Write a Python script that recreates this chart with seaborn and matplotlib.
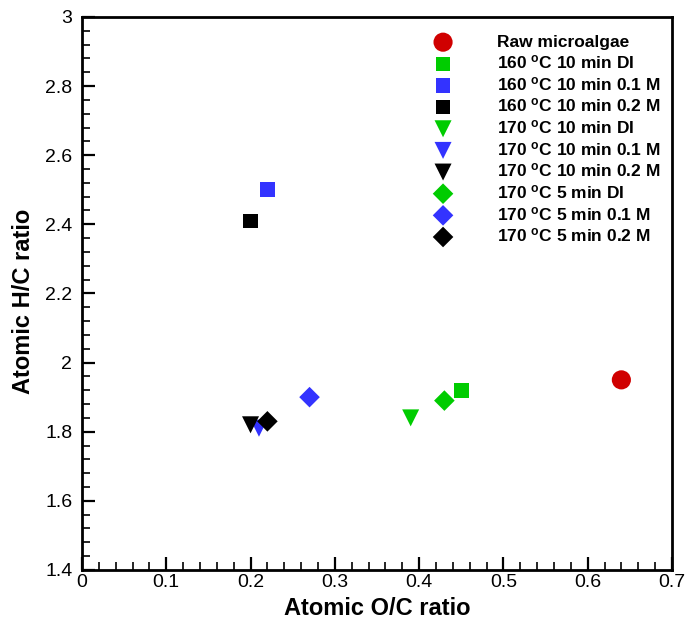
import matplotlib
matplotlib.use("Agg")
import matplotlib.pyplot as plt
import seaborn as sns
import pandas as pd
from matplotlib.ticker import MultipleLocator

sns.set_theme(style="white")
plt.rcParams['font.family'] = ['Liberation Sans', 'DejaVu Sans']
plt.rcParams['mathtext.fontset'] = 'custom'
plt.rcParams['mathtext.rm'] = 'Liberation Sans:bold'
plt.rcParams['mathtext.it'] = 'Liberation Sans:bold'
plt.rcParams['mathtext.bf'] = 'Liberation Sans:bold'
for k in ['text.color', 'axes.labelcolor', 'xtick.color', 'ytick.color']:
    plt.rcParams[k] = 'black'

labels = ["Raw microalgae",
          "160 $^{\\mathrm{o}}$C 10 min DI",
          "160 $^{\\mathrm{o}}$C 10 min 0.1 M",
          "160 $^{\\mathrm{o}}$C 10 min 0.2 M",
          "170 $^{\\mathrm{o}}$C 10 min DI",
          "170 $^{\\mathrm{o}}$C 10 min 0.1 M",
          "170 $^{\\mathrm{o}}$C 10 min 0.2 M",
          "170 $^{\\mathrm{o}}$C 5 min DI",
          "170 $^{\\mathrm{o}}$C 5 min 0.1 M",
          "170 $^{\\mathrm{o}}$C 5 min 0.2 M"]
oc_ratio = [0.64, 0.45, 0.22, 0.20, 0.39, 0.21, 0.20, 0.43, 0.27, 0.22]
hc_ratio = [1.95, 1.92, 2.50, 2.41, 1.84, 1.81, 1.82, 1.89, 1.90, 1.83]

colors = ['#D00000', '#00CC00', '#3333FF', '#000000',
          '#00CC00', '#3333FF', '#000000',
          '#00CC00', '#3333FF', '#000000']
markers = ['o', 's', 's', 's', 'v', 'v', 'v', 'D', 'D', 'D']
sizes = [190, 110, 110, 110, 150, 150, 150, 110, 110, 110]

fig = plt.figure(figsize=(6.86, 6.26), dpi=100)
ax = fig.add_axes([0.1195, 0.0895, 0.86, 0.8835])

for i, lab in enumerate(labels):
    df = pd.DataFrame({'x': [oc_ratio[i]], 'y': [hc_ratio[i]]})
    sns.scatterplot(data=df, x='x', y='y', ax=ax, color=colors[i],
                    marker=markers[i], s=sizes[i], edgecolor='none',
                    label=lab, zorder=3 + i)

ax.set_xlim(0, 0.7)
ax.set_ylim(1.4, 3.0)
ax.xaxis.set_major_locator(MultipleLocator(0.1))
ax.xaxis.set_minor_locator(MultipleLocator(0.02))
ax.yaxis.set_major_locator(MultipleLocator(0.2))
ax.yaxis.set_minor_locator(MultipleLocator(0.04))
ax.set_xticklabels([f"{v:g}" for v in ax.get_xticks()])
ax.set_yticklabels([f"{v:g}" for v in ax.get_yticks()])

ax.tick_params(axis='both', which='major', direction='in', length=9.5, width=1.6,
               labelsize=14, bottom=True, left=True, top=False, right=False, pad=3)
ax.tick_params(axis='y', which='major', pad=7)
ax.tick_params(axis='both', which='minor', direction='in', length=5.5, width=1.2,
               bottom=True, left=True, top=False, right=False)
for sp in ax.spines.values():
    sp.set_color('black')
    sp.set_linewidth(2)

ax.set_xlabel("Atomic O/C ratio", fontsize=17, fontweight='bold', labelpad=4)
ax.set_ylabel("Atomic H/C ratio", fontsize=17, fontweight='bold', labelpad=3)
ax.yaxis.set_label_coords(-0.08, 0.485)

leg = ax.legend(loc='upper left', bbox_to_anchor=(0.562, 0.99), frameon=False,
                prop={'weight': 'bold', 'size': 12.5}, handletextpad=2.1,
                labelspacing=0.21, borderaxespad=0.3)

fig.savefig("out.png", dpi=100)
